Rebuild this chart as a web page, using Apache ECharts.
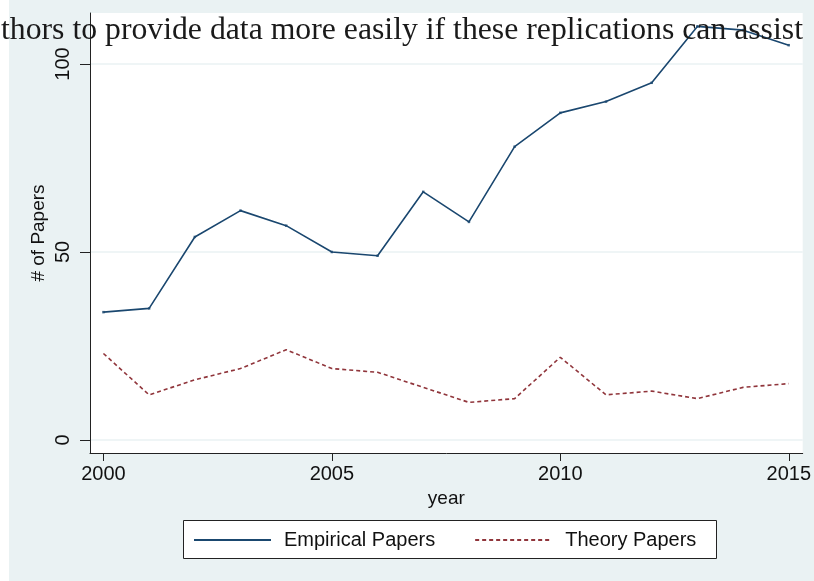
<!DOCTYPE html>
<html>
<head>
<meta charset="utf-8">
<script src="https://cdn.jsdelivr.net/npm/echarts@6/dist/echarts.min.js"></script>
<style>
  html, body { margin: 0; padding: 0; background: #ffffff; }
  #chart { width: 814px; height: 581px; }
</style>
</head>
<body>
<div id="chart"></div>
<script>
// Papers per year, 2000–2015
const years = [2000, 2001, 2002, 2003, 2004, 2005, 2006, 2007, 2008, 2009, 2010, 2011, 2012, 2013, 2014, 2015];
const empiricalPapers = [34, 35, 54, 61, 57, 50, 49, 66, 58, 78, 87, 90, 95, 110, 109, 105];
const theoryPapers = [23, 12, 16, 19, 24, 19, 18, 14, 10, 11, 22, 12, 13, 11, 14, 15];
const xTicks = [2000, 2005, 2010, 2015];
const yTicks = [0, 50, 100];
const overlayText = 'thors to provide data more easily if these replications can assist';

const NAVY = '#1a476f';
const MAROON = '#90353b';
const BG = '#eaf2f3';
const SANS = '"Liberation Sans", Arial, Helvetica, sans-serif';
const SERIF = '"Liberation Serif", "Times New Roman", serif';

// fit the serif line to its span across the top
function fitFontSize(text, font, width) {
  const ctx = document.createElement('canvas').getContext('2d');
  ctx.font = '100px ' + font;
  return 100 * width / ctx.measureText(text).width;
}
const overlaySize = fitFontSize(overlayText, SERIF, 802);

const pairs = arr => years.map((y, i) => [y, arr[i]]);

const chart = echarts.init(document.getElementById('chart'), null, { renderer: 'canvas' });

chart.setOption({
  animation: false,
  backgroundColor: BG,
  grid: { left: 90, right: 8, top: 13, bottom: 128, show: true, backgroundColor: '#ffffff', borderWidth: 0 },
  xAxis: {
    type: 'value',
    min: 1999.706,
    max: 2015.305,
    name: 'year',
    nameLocation: 'middle',
    nameGap: 34,
    nameTextStyle: { fontFamily: SANS, fontSize: 19, color: '#111' },
    axisLine: { show: true, onZero: false, lineStyle: { color: '#222', width: 1 } },
    axisTick: { show: true, length: 8, customValues: xTicks, lineStyle: { color: '#222' } },
    axisLabel: { customValues: xTicks, margin: 11, fontFamily: SANS, fontSize: 20, color: '#111', formatter: v => String(v) },
    splitLine: { show: false }
  },
  yAxis: {
    type: 'value',
    min: -3.46,
    max: 113.56,
    name: '# of Papers',
    nameLocation: 'middle',
    nameRotate: 90,
    nameGap: 42,
    nameMoveOverlap: false,
    nameTextStyle: { fontFamily: SANS, fontSize: 19, color: '#111' },
    axisLine: { show: true, lineStyle: { color: '#222', width: 1 } },
    axisTick: { show: true, length: 10, customValues: yTicks, lineStyle: { color: '#222' } },
    axisLabel: { customValues: yTicks, rotate: 90, margin: 17, fontFamily: SANS, fontSize: 20, color: '#111' },
    splitLine: { show: true, lineStyle: { color: BG, width: 1.5 } }
  },
  legend: {
    data: ['Empirical Papers', 'Theory Papers'],
    left: 193,
    top: 530,
    itemWidth: 77,
    itemHeight: 20,
    itemGap: 39,
    padding: 0,
    // line samples only, no marker in the middle
    itemStyle: { color: 'rgba(0,0,0,0)', borderWidth: 0, opacity: 0 },
    textStyle: { fontFamily: SANS, fontSize: 20, color: '#111', padding: [0, 0, 0, 8] }
  },
  graphic: [
    { type: 'rect', z: -10, silent: true, shape: { x: 0, y: 0, width: 9, height: 581 }, style: { fill: '#ffffff' } },
    { type: 'rect', z: -5, silent: true, shape: { x: 183.5, y: 520.5, width: 533, height: 38 }, style: { fill: '#ffffff', stroke: '#222', lineWidth: 1 } },
    { type: 'text', z: 100, silent: true, left: 1, top: 15, style: { text: overlayText, font: overlaySize.toFixed(2) + 'px ' + SERIF, fill: '#1a1a1a' } }
  ],
  series: [
    {
      name: 'Empirical Papers',
      type: 'line',
      data: pairs(empiricalPapers),
      symbol: 'none',
      lineStyle: { color: NAVY, width: 1.6 },
      itemStyle: { color: NAVY },
      z: 3
    },
    {
      name: 'Theory Papers',
      type: 'line',
      data: pairs(theoryPapers),
      symbol: 'none',
      lineStyle: { color: MAROON, width: 1.6, type: [4, 3] },
      itemStyle: { color: MAROON },
      z: 3
    },
    {
      name: 'empirical-vertices',
      type: 'scatter',
      data: pairs(empiricalPapers),
      symbol: 'rect',
      symbolSize: 2.5,
      itemStyle: { color: NAVY },
      silent: true,
      z: 4
    }
  ]
});
</script>
</body>
</html>
